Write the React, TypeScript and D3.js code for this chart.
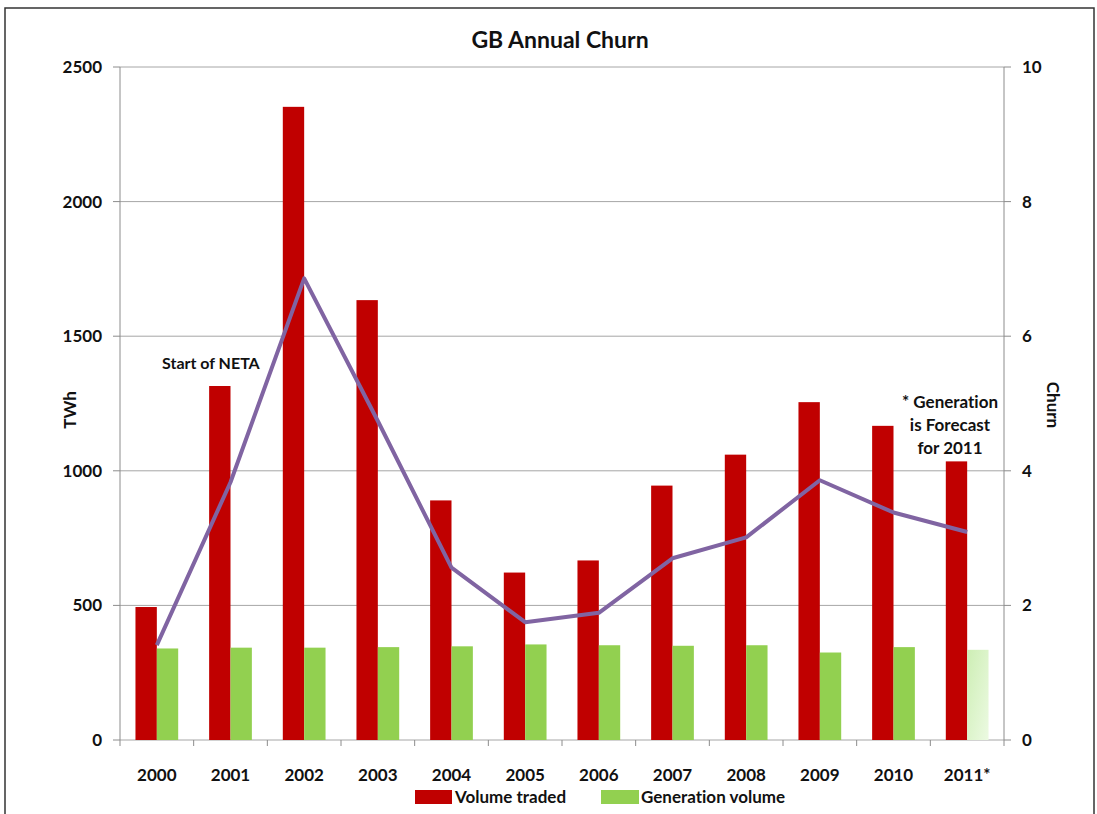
import * as d3 from "d3";

const years = ["2000", "2001", "2002", "2003", "2004", "2005", "2006", "2007", "2008", "2009", "2010", "2011*"];
const volumeTraded = [494, 1315, 2352, 1634, 890, 622, 667, 945, 1060, 1255, 1167, 1035];
const generationVolume = [340, 343, 343, 345, 348, 355, 352, 350, 352, 325, 345, 335];
const churn = [1.41, 3.83, 6.86, 4.74, 2.56, 1.75, 1.89, 2.7, 3.01, 3.86, 3.38, 3.09];
const leftTicks = [0, 500, 1000, 1500, 2000, 2500];
const rightTicks = [0, 2, 4, 6, 8, 10];

const W = 1097;
const H = 814;
const plot = { left: 120, right: 1004, top: 67, bottom: 740 };
const font = "Lato, 'Open Sans', sans-serif";
const ink = "#111";

export default function App() {
  const x = d3.scaleBand<string>().domain(years).range([plot.left, plot.right]);
  const yL = d3.scaleLinear().domain([0, 2500]).range([plot.bottom, plot.top]);
  const yR = d3.scaleLinear().domain([0, 10]).range([plot.bottom, plot.top]);
  const bw = x.bandwidth() * 0.29;
  const center = (y: string) => (x(y) ?? 0) + x.bandwidth() / 2;

  const line = d3
    .line<number>()
    .x((_, i) => center(years[i]))
    .y((d) => yR(d));

  return (
    <div style={{ position: "absolute", left: 0, top: 0 }}>
      <svg
        width={W}
        height={H}
        style={{ display: "block", background: "white", fontVariantLigatures: "none", fontFeatureSettings: "'liga' 0, 'clig' 0" }}
      >
        <defs>
          <linearGradient id="forecast" x1="0" y1="0" x2="1" y2="1">
            <stop offset="0%" stopColor="#cdeeb4" />
            <stop offset="100%" stopColor="#ecfae2" />
          </linearGradient>
        </defs>
        <rect x={5} y={8} width={1089} height={830} fill="white" stroke="#333" strokeWidth={1.5} />

        <text x={560} y={48} textAnchor="middle" fontFamily={font} fontWeight="bold" fontSize={23} fill={ink}>
          GB Annual Churn
        </text>

        {/* grid */}
        {leftTicks.map((t) => (
          <line key={t} x1={plot.left} x2={plot.right} y1={yL(t)} y2={yL(t)} stroke="#a6a6a6" strokeWidth={1} />
        ))}
        <line x1={plot.left} x2={plot.left} y1={plot.top} y2={plot.bottom} stroke="#8c8c8c" />
        <line x1={plot.right} x2={plot.right} y1={plot.top} y2={plot.bottom} stroke="#8c8c8c" />
        {leftTicks.map((t) => (
          <g key={"l" + t}>
            <line x1={plot.left - 7} x2={plot.left} y1={yL(t)} y2={yL(t)} stroke="#8c8c8c" />
            <text x={102} y={yL(t) + 6} textAnchor="end" fontFamily={font} fontWeight="bold" fontSize={17} fill={ink}>
              {t}
            </text>
          </g>
        ))}
        {rightTicks.map((t) => (
          <g key={"r" + t}>
            <line x1={plot.right} x2={plot.right + 7} y1={yR(t)} y2={yR(t)} stroke="#8c8c8c" />
            <text x={1022} y={yR(t) + 6} textAnchor="start" fontFamily={font} fontWeight="bold" fontSize={17} fill={ink}>
              {t}
            </text>
          </g>
        ))}
        {years.map((y) => (
          <line key={"xt" + y} x1={x(y)} x2={x(y)} y1={plot.bottom} y2={plot.bottom + 6} stroke="#8c8c8c" />
        ))}
        <line x1={plot.right} x2={plot.right} y1={plot.bottom} y2={plot.bottom + 6} stroke="#8c8c8c" />

        {/* bars */}
        {years.map((y, i) => (
          <g key={"b" + y}>
            <rect x={center(y) - bw} y={yL(volumeTraded[i])} width={bw} height={plot.bottom - yL(volumeTraded[i])} fill="#c00000" />
            <rect
              x={center(y)}
              y={yL(generationVolume[i])}
              width={bw}
              height={plot.bottom - yL(generationVolume[i])}
              fill={i === years.length - 1 ? "url(#forecast)" : "#92d050"}
            />
          </g>
        ))}

        <path d={line(churn) ?? ""} fill="none" stroke="#8064a2" strokeWidth={4} strokeLinejoin="round" />

        {years.map((y) => (
          <text key={"xl" + y} x={center(y)} y={781} textAnchor="middle" fontFamily={font} fontWeight="bold" fontSize={17} fill={ink}>
            {y}
          </text>
        ))}

        <text transform="translate(76,410) rotate(-90)" textAnchor="middle" fontFamily={font} fontWeight="bold" fontSize={17} fill={ink}>
          TWh
        </text>
        <text transform="translate(1047,405) rotate(90)" textAnchor="middle" fontFamily={font} fontWeight="bold" fontSize={17} fill={ink}>
          Churn
        </text>

        <text x={162} y={369} fontFamily={font} fontWeight="bold" fontSize={16} fill={ink}>
          Start of NETA
        </text>
        <text textAnchor="middle" fontFamily={font} fontWeight="bold" fontSize={17} fill={ink}>
          <tspan x={950} y={408}>* Generation</tspan>
          <tspan x={950} y={431}>is Forecast</tspan>
          <tspan x={950} y={454}>for 2011</tspan>
        </text>

        {/* legend */}
        <rect x={415} y={790} width={37} height={14} fill="#c00000" />
        <text x={455} y={803} fontFamily={font} fontWeight="bold" fontSize={17} fill={ink}>
          Volume traded
        </text>
        <rect x={601} y={790} width={38} height={14} fill="#92d050" />
        <text x={641} y={803} fontFamily={font} fontWeight="bold" fontSize={17} fill={ink}>
          Generation volume
        </text>
      </svg>
    </div>
  );
}
